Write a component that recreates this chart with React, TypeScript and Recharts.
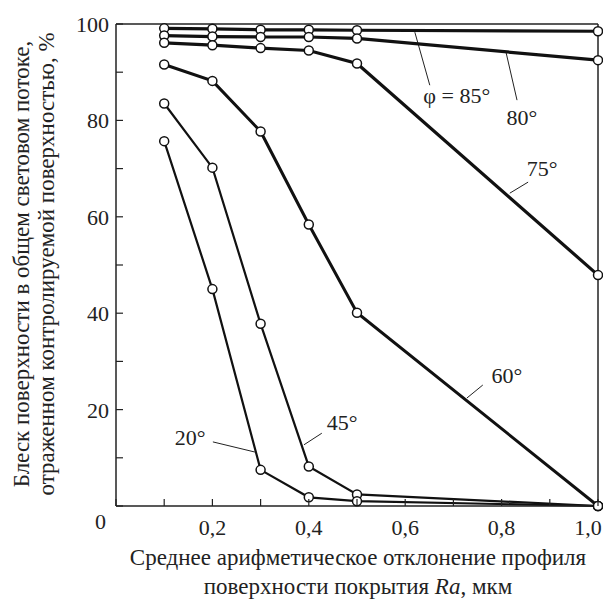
import React from "react";
import { LineChart, Line, XAxis, YAxis, ReferenceLine, ReferenceDot } from "recharts";

const ra = [0.1, 0.2, 0.3, 0.4, 0.5, 1.0];
const phi85 = [99.1, 99.0, 98.8, 98.8, 98.7, 98.5];
const phi80 = [97.6, 97.4, 97.3, 97.3, 97.0, 92.5];
const phi75 = [96.1, 95.6, 95.0, 94.5, 91.8, 47.9];
const phi60 = [91.6, 88.2, 77.7, 58.4, 40.1, 0];
const phi45 = [83.5, 70.2, 37.8, 8.2, 2.4, 0];
const phi20 = [75.7, 45.0, 7.5, 1.8, 1.0, 0];

const xTicks = [0, 0.1, 0.2, 0.3, 0.4, 0.5, 0.6, 0.7, 0.8, 0.9, 1.0];
const xLabels = ["", "", "0,2", "", "0,4", "", "0,6", "", "0,8", "", "1,0"];
const yTicks = [0, 10, 20, 30, 40, 50, 60, 70, 80, 90, 100];
const yLabels = ["0", "", "20", "", "40", "", "60", "", "80", "", "100"];

// curve labels: text, text position, leader line start/end
const curveLabels = [
  { text: "φ = 85°", x: 0.707, y: 85.3, x1: 0.62, y1: 98.3, x2: 0.651, y2: 87.3 },
  { text: "80°", x: 0.842, y: 80.7, x1: 0.809, y1: 94.2, x2: 0.832, y2: 84.2 },
  { text: "75°", x: 0.884, y: 70.1, x1: 0.817, y1: 64.9, x2: 0.855, y2: 67.2 },
  { text: "60°", x: 0.811, y: 27.2, x1: 0.728, y1: 22.4, x2: 0.761, y2: 25.1 },
  { text: "45°", x: 0.469, y: 17.4, x1: 0.39, y1: 12.7, x2: 0.427, y2: 15.1 },
  { text: "20°", x: 0.154, y: 14.3, x1: 0.201, y1: 13.3, x2: 0.288, y2: 11.2 },
];

const data = ra.map((x, i) => ({
  x,
  p85: phi85[i],
  p80: phi80[i],
  p75: phi75[i],
  p60: phi60[i],
  p45: phi45[i],
  p20: phi20[i],
}));

const FONT = "Liberation Serif";

const dot = { r: 4.5, fill: "#fff", stroke: "#111", strokeWidth: 1.5 };

const XTick = (props: any) => {
  const { x, y, payload } = props;
  const i = xTicks.indexOf(payload.value);
  const last = i === xTicks.length - 1;
  return (
    <g>
      <line x1={x} y1={y} x2={x} y2={y - 7} stroke="#222" strokeWidth={1.2} />
      <text x={last ? x - 10 : x} y={y + 29} textAnchor="middle" fontFamily={FONT} fontSize={22} fill="#222">
        {xLabels[i]}
      </text>
    </g>
  );
};

const YTick = (props: any) => {
  const { x, y, payload } = props;
  const i = yTicks.indexOf(payload.value);
  const isZero = payload.value === 0;
  return (
    <g>
      <line x1={x} y1={y} x2={x + 7} y2={y} stroke="#222" strokeWidth={1.2} />
      <text
        x={isZero ? x - 10 : x - 7}
        y={isZero ? y + 23 : y + 8}
        textAnchor="end"
        fontFamily={FONT}
        fontSize={22}
        fill="#222"
      >
        {yLabels[i]}
      </text>
    </g>
  );
};

const series = [
  { key: "p85", w: 3.2 },
  { key: "p80", w: 3.2 },
  { key: "p75", w: 3.2 },
  { key: "p60", w: 3 },
  { key: "p45", w: 2.2 },
  { key: "p20", w: 2.2 },
];

export default function App() {
  return (
    <div style={{ position: "absolute", left: 0, top: 0, width: 603, height: 601, background: "#fff" }}>
      <LineChart width={603} height={601} data={data} margin={{ top: 24, right: 5, bottom: 65, left: 56 }}>
        <XAxis
          dataKey="x"
          type="number"
          domain={[0, 1]}
          ticks={xTicks}
          interval={0}
          tickSize={0}
          tickMargin={0}
          tick={<XTick />}
          axisLine={{ stroke: "#222", strokeWidth: 1.5 }}
          height={30}
        />
        <YAxis
          type="number"
          domain={[0, 100]}
          ticks={yTicks}
          interval={0}
          tickSize={0}
          tickMargin={0}
          tick={<YTick />}
          axisLine={{ stroke: "#222", strokeWidth: 1.5 }}
          width={60}
        />
        <ReferenceLine y={100} stroke="#222" strokeWidth={1.5} />
        <ReferenceLine x={1} stroke="#222" strokeWidth={1.5} />
        {curveLabels.map((c) => (
          <ReferenceLine
            key={"l" + c.text}
            segment={[
              { x: c.x1, y: c.y1 },
              { x: c.x2, y: c.y2 },
            ]}
            stroke="#222"
            strokeWidth={1}
          />
        ))}
        {series.map((s) => (
          <Line
            key={s.key}
            dataKey={s.key}
            type="linear"
            stroke="#111"
            strokeWidth={s.w}
            dot={dot}
            activeDot={false}
            isAnimationActive={false}
          />
        ))}
        {curveLabels.map((c) => (
          <ReferenceDot
            key={"t" + c.text}
            x={c.x}
            y={c.y}
            r={0}
            fill="none"
            stroke="none"
            label={{
              value: c.text,
              position: "center",
              fontFamily: FONT,
              fontSize: 22,
              fill: "#222",
            }}
          />
        ))}
      </LineChart>
      <svg
        width={603}
        height={601}
        style={{ position: "absolute", left: 0, top: 0, pointerEvents: "none" }}
        fill="#222"
      >
        <text x={21} y={264} fontFamily={FONT} fontSize={23} textAnchor="middle" dominantBaseline="central" transform="rotate(-90 21 264)">
          Блеск поверхности в общем световом потоке,
        </text>
        <text x={46} y={264} fontFamily={FONT} fontSize={23} textAnchor="middle" dominantBaseline="central" transform="rotate(-90 46 264)">
          отраженном контролируемой поверхностью, %
        </text>
        <text x={358} y={557} fontFamily={FONT} fontSize={23} textAnchor="middle" dominantBaseline="central">
          Среднее арифметическое отклонение профиля
        </text>
        <text x={358} y={586} fontFamily={FONT} fontSize={23} textAnchor="middle" dominantBaseline="central">
          поверхности покрытия <tspan fontStyle="italic">Ra</tspan>, мкм
        </text>
      </svg>
    </div>
  );
}
